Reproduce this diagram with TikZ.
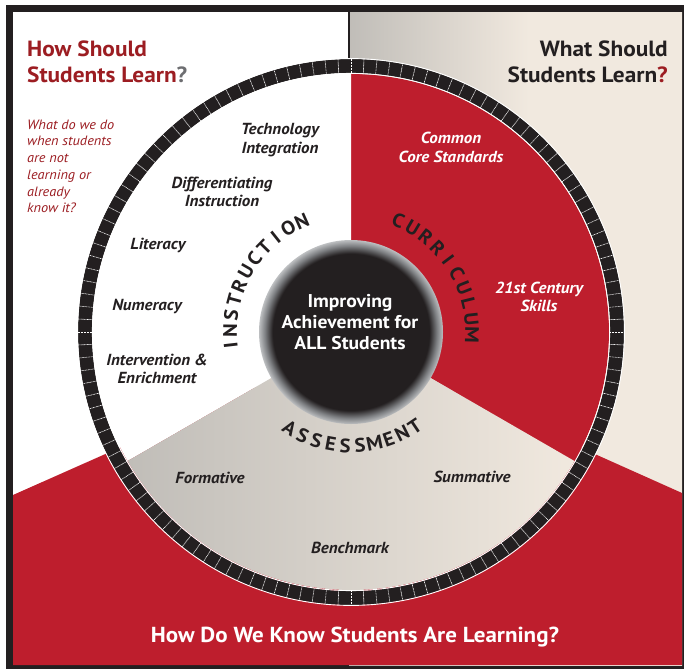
\documentclass[tikz,border=0pt]{standalone}
\usepackage{fontspec}
\setmainfont[FakeStretch=1.06]{PT Sans}
\usetikzlibrary{calc}
\definecolor{dk}{HTML}{231F20}
\definecolor{crimson}{HTML}{BE1E2D}
\definecolor{dred}{HTML}{9C1D22}
\definecolor{qgray}{HTML}{6D6E71}
\definecolor{warmgray}{HTML}{C0BDB8}
\definecolor{beige}{HTML}{F1E9DF}
\definecolor{haloA}{HTML}{7E8083}
\definecolor{haloB}{HTML}{BDBFC1}
\pgfdeclarehorizontalshading{topfade}{100bp}{color(0bp)=(warmgray); color(25bp)=(warmgray); color(52bp)=(beige); color(100bp)=(beige)}
\pgfdeclareradialshading{halo}{\pgfpoint{0bp}{0bp}}{color(0bp)=(dk); color(21.3bp)=(dk); color(23.4bp)=(haloA); color(25bp)=(haloB); color(50bp)=(haloB)}
\begin{document}
\begin{tikzpicture}[x=1pt,y=-1pt,
  headline/.style={font=\bfseries\fontsize{22}{26}\selectfont, inner sep=0pt},
  itlabel/.style={font=\bfseries\itshape\fontsize{16}{18.5}\selectfont, text=dk, align=center, inner sep=0pt},
  arcletter/.style={font=\bfseries\fontsize{19.5}{19.5}\selectfont, text=dk, inner sep=0pt},
  tick/.style={white, line width=0.6pt, dash pattern=on 0.9pt off 0.6pt}]
\useasboundingbox (0,0) rectangle (684,669);
\fill[white] (0,0) rectangle (684,669);
\fill[dk] (5.5,5) rectangle (684,669);
\fill[white] (13,12.5) rectangle (682,665);
\shade[shading=topfade] (349,12.5) rectangle (682,665);
\fill[crimson] (13,495) -- (351,345) -- (682,493) -- (682,665) -- (13,665) -- cycle;
\draw[dk, line width=2.5pt] (349,12.5) -- (349,80);

\coordinate (c) at (351,332);
\begin{scope}[shift={(c)}, yscale=-1]
  \fill[crimson] (0,0) -- (90:258) arc[start angle=90, end angle=-30, radius=258] -- cycle;
  \fill[white] (0,0) -- (90:258) arc[start angle=90, end angle=210, radius=258] -- cycle;
  \shade[left color=warmgray, right color=beige] (0,0) -- (210:258) arc[start angle=210, end angle=330, radius=258] -- cycle;
  \draw[dk, line width=14pt] (0,0) circle[radius=266];
  \foreach \i in {0,...,131} {
    \pgfmathsetmacro\ta{\i*2.727273}
    \draw[tick] (\ta:259) -- (\ta:273);
  }
  \draw[white, line width=0.9pt] (0,0) circle[radius=258.6];
  \draw[white, line width=0.9pt] (0,0) circle[radius=273.4];
  \shade[shading=halo] (0,0) circle[radius=92];
  \foreach \l [count=\k from 0] in {I,N,S,T,R,U,C,T,I,O,N} {
    \pgfmathsetmacro\ang{186.5-\k*7.25}
    \node[arcletter, rotate=\ang-90] (ins\k) at (\ang:121) {\l};
  }
  \foreach \l [count=\k from 0] in {C,U,R,R,I,C,U,L,U,M} {
    \pgfmathsetmacro\ang{67-\k*7.6}
    \node[arcletter, rotate=\ang-90] (cur\k) at (\ang:121) {\l};
  }
  \foreach \l [count=\k from 0] in {A,S,S,E,S,S,M,E,N,T} {
    \pgfmathsetmacro\ang{237.5+\k*7.4}
    \node[arcletter, rotate=\ang+90] (ass\k) at (\ang:114) {\l};
  }
\end{scope}

\node[font=\bfseries\fontsize{18.5}{21}\selectfont, text=white, align=center, inner sep=0pt] (hub) at (350,322.4) {Improving\\Achievement for\\ALL Students};

\node[headline, text=dred, anchor=west, align=left] (hsl) at (27,62) {How Should\\Students Learn\textcolor{qgray}{?}};
\node[headline, text=dk, anchor=east, align=right] (wsl) at (668,62) {What Should\\Students Learn\textcolor{dred}{?}};
\node[font=\itshape\fontsize{13.5}{16.7}\selectfont, text=dred, anchor=west, align=left, inner sep=0pt] (q) at (27,166.4) {What do we do\\when students\\are not\\learning or\\already\\know it?};

\node[itlabel] (tech) at (280,140) {Technology\\Integration};
\node[itlabel] (diff) at (222,192) {Differentiating\\Instruction};
\node[itlabel, anchor=base] (lit) at (158,249) {Literacy};
\node[itlabel, anchor=base] (num) at (147,310) {Numeracy};
\node[itlabel] (int) at (157,369) {Intervention \&\\Enrichment};
\node[itlabel, text=white] (ccs) at (451,147.5) {Common\\Core Standards};
\node[itlabel, text=white] (c21) at (539,297) {21st Century\\Skills};
\node[itlabel, anchor=base] (form) at (210,483) {Formative};
\node[itlabel, anchor=base] (summ) at (472,482) {Summative};
\node[itlabel, anchor=base] (bench) at (350,553) {Benchmark};
\node[font=\bfseries\fontsize{21.7}{24}\selectfont, text=white, anchor=base, inner sep=0pt] (bottom) at (355,642) {How Do We Know Students Are Learning?};
\end{tikzpicture}
\end{document}
